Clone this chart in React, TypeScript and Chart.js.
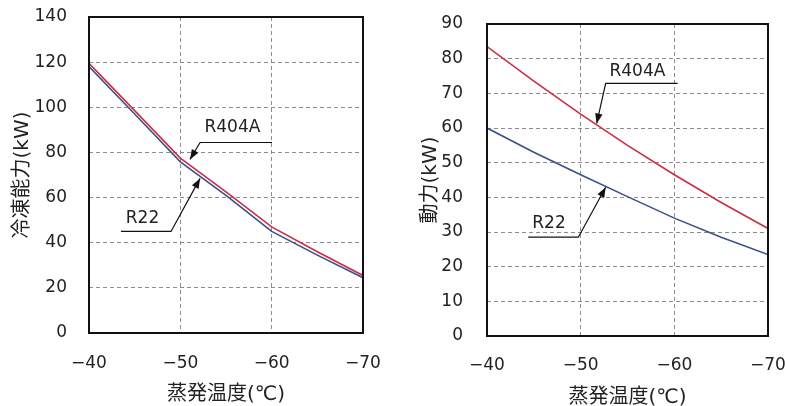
import React, { useEffect, useRef } from "react";
import { Chart, registerables } from "chart.js";

Chart.register(...registerables);

// ---------- data ----------
const temps = [-40, -45, -50, -55, -60, -65, -70];
const capacityR404A = [119.5, 98.5, 77.5, 62.5, 47, 36, 25.5];
const capacityR22 = [118, 97, 75.8, 61, 45, 34.5, 24.5];
const powerR404A = [83.5, 73.5, 64, 55, 46.5, 38.5, 31];
const powerR22 = [60, 53, 46.5, 40.2, 34, 28.5, 23.5];

const xTitle = "蒸発温度(℃)";
const capacityTitle = "冷凍能力(kW)";
const powerTitle = "動力(kW)";
const seriesNames = ["R404A", "R22"];

// callouts in data units: label position, leader path (end, corner, arrow tip)
const capacityCallouts = [
  { text: "R404A", at: [-55.7, 91.1], path: [[-60.04, 84.4], [-52.16, 84.4], [-51.06, 76.9]] },
  { text: "R22", at: [-45.86, 50.9], path: [[-43.5, 45.0], [-48.98, 45.0], [-52.16, 68.5]] },
];
const powerCallouts = [
  { text: "R404A", at: [-56.06, 76.2], path: [[-60.35, 72.9], [-52.67, 72.9], [-51.71, 61.3]] },
  { text: "R22", at: [-46.62, 32.4], path: [[-44.4, 28.5], [-49.75, 28.5], [-52.67, 42.9]] },
];

const LATIN = "'DejaVu Sans', 'Noto Sans CJK JP', sans-serif";
const RED = "#cc2d42";
const BLUE = "#3a5088";

function makeFramePlugin(callouts: any[]) {
  return {
    id: "frame",
    afterDraw(chart: any) {
      const { ctx, chartArea } = chart;
      const { left, top, right, bottom } = chartArea;
      const xs = chart.scales.x;
      const ys = chart.scales.y;
      ctx.save();
      ctx.strokeStyle = "#111";
      ctx.fillStyle = "#111";
      for (const c of callouts) {
        const pts = c.path.map((p: number[]) => [xs.getPixelForValue(p[0]), ys.getPixelForValue(p[1])]);
        ctx.lineWidth = 1.2;
        ctx.beginPath();
        ctx.moveTo(pts[0][0], pts[0][1]);
        for (let i = 1; i < pts.length; i++) ctx.lineTo(pts[i][0], pts[i][1]);
        ctx.stroke();
        const [cx, cy] = pts[pts.length - 2];
        const [tx, ty] = pts[pts.length - 1];
        const ang = Math.atan2(ty - cy, tx - cx);
        const L = 10, W = 3.8;
        const co = Math.cos(ang), si = Math.sin(ang);
        ctx.beginPath();
        ctx.moveTo(tx, ty);
        ctx.lineTo(tx - L * co + W * si, ty - L * si - W * co);
        ctx.lineTo(tx - L * co - W * si, ty - L * si + W * co);
        ctx.closePath();
        ctx.fill();
        ctx.font = `17px ${LATIN}`;
        ctx.textAlign = "center";
        ctx.textBaseline = "middle";
        ctx.fillStyle = "#222";
        ctx.fillText(c.text, xs.getPixelForValue(c.at[0]), ys.getPixelForValue(c.at[1]));
        ctx.fillStyle = "#111";
      }
      ctx.lineWidth = 2;
      ctx.strokeRect(left, top, right - left, bottom - top);
      ctx.restore();
    },
  };
}

function zeroPad(s: any) {
  s.paddingTop = 0;
  s.paddingBottom = 0;
  s.paddingLeft = 0;
  s.paddingRight = 0;
}

function makeConfig(p: any) {
  const toPts = (arr: number[]) => temps.map((t, i) => ({ x: t, y: arr[i] }));
  return {
    type: "line",
    data: {
      datasets: [
        { label: seriesNames[0], data: toPts(p.red), borderColor: RED, borderWidth: 1.6, pointRadius: 0, tension: 0, fill: false },
        { label: seriesNames[1], data: toPts(p.blue), borderColor: BLUE, borderWidth: 1.6, pointRadius: 0, tension: 0, fill: false },
      ],
    },
    options: {
      responsive: false,
      animation: false,
      devicePixelRatio: 1,
      layout: { padding: p.padding },
      plugins: { legend: { display: false }, tooltip: { enabled: false } },
      scales: {
        x: {
          type: "linear",
          min: -70,
          max: -40,
          reverse: true,
          afterFit: (s: any) => { s.height = p.xHeight; zeroPad(s); },
          ticks: {
            stepSize: 10,
            padding: p.xTickPad,
            color: "#222",
            font: { family: LATIN, size: 17 },
            callback: (v: number) => (v < 0 ? "\u2212" + Math.abs(v) : String(v)),
          },
          grid: { color: "#8c8c8c", lineWidth: 1, drawTicks: false },
          border: { display: false, dash: [4, 3] },
          title: {
            display: true,
            text: xTitle,
            color: "#222",
            font: { family: LATIN, size: 20 },
            padding: { top: 0, bottom: p.xTitlePad },
          },
        },
        y: {
          type: "linear",
          min: 0,
          max: p.yMax,
          afterFit: (s: any) => { s.width = p.yWidth; zeroPad(s); },
          ticks: {
            stepSize: p.yStep,
            padding: p.yTickPad,
            color: "#222",
            font: { family: LATIN, size: 17 },
          },
          grid: { color: "#8c8c8c", lineWidth: 1, drawTicks: false },
          border: { display: false, dash: [4, 3] },
          title: {
            display: true,
            text: p.yTitle,
            color: "#222",
            font: { family: LATIN, size: 20 },
            padding: { top: p.yTitlePad, bottom: 0 },
          },
        },
      },
    },
    plugins: [makeFramePlugin(p.callouts)],
  };
}

function Panel(props: { left: number; width: number; params: any }) {
  const ref = useRef<HTMLCanvasElement | null>(null);
  useEffect(() => {
    if (!ref.current) return;
    const chart = new Chart(ref.current, makeConfig(props.params) as any);
    return () => chart.destroy();
  }, []);
  return (
    <canvas
      ref={ref}
      width={props.width}
      height={406}
      style={{ position: "absolute", left: props.left, top: 0, width: props.width, height: 406 }}
    />
  );
}

const leftParams = {
  red: capacityR404A,
  blue: capacityR22,
  yMax: 140,
  yStep: 20,
  yTitle: capacityTitle,
  callouts: capacityCallouts,
  padding: { left: 0, top: 17, right: 27, bottom: 0 },
  yWidth: 89,
  xHeight: 73,
  yTickPad: 22,
  xTickPad: 20,
  xTitlePad: -1,
  yTitlePad: 11,
};

const rightParams = {
  red: powerR404A,
  blue: powerR22,
  yMax: 90,
  yStep: 10,
  yTitle: powerTitle,
  callouts: powerCallouts,
  padding: { left: 0, top: 24, right: 17, bottom: 0 },
  yWidth: 92,
  xHeight: 70,
  yTickPad: 24,
  xTickPad: 19,
  xTitlePad: -4,
  yTitlePad: 24,
};

export default function App() {
  return (
    <div style={{ position: "absolute", left: 0, top: 0, width: 785, height: 406, background: "#fff", overflow: "hidden" }}>
      <Panel left={0} width={390} params={leftParams} />
      <Panel left={395} width={390} params={rightParams} />
    </div>
  );
}
